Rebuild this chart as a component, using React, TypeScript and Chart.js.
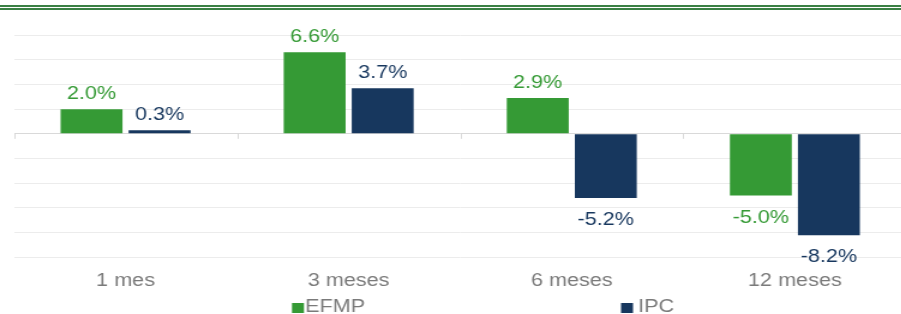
import React, { useEffect, useRef } from "react";
import { Chart, registerables } from "chart.js";

Chart.register(...registerables);

const categories = ["1 mes", "3 meses", "6 meses", "12 meses"];
const seriesNames = ["EFMP", "IPC"];
const efmpValues = [2.0, 6.6, 2.9, -5.0];
const ipcValues = [0.3, 3.7, -5.2, -8.2];
const yMin = -10;
const yMax = 8;
const yStep = 2;

const GREEN = "#359a35";
const NAVY = "#17375e";
const GRAY_TEXT = "#7a7a7a";
const FONT = "'Liberation Sans', Arial, sans-serif";
const SX = 1.2; // horizontal stretch of the original picture
const W = 757;
const H = 314;

const decorPlugin = {
  id: "decor",
  beforeDraw(chart: any) {
    const ctx = chart.ctx;
    ctx.save();
    ctx.fillStyle = "#3a8044";
    ctx.fillRect(0, 5, chart.width, 2);
    ctx.fillRect(0, 8, chart.width, 2);
    ctx.restore();
  },
  afterDraw(chart: any) {
    const ctx = chart.ctx;
    const x = chart.scales.x;
    const y = chart.scales.y;
    const zy = y.getPixelForValue(0);
    ctx.save();
    ctx.strokeStyle = "#d9d9d9";
    ctx.lineWidth = 1;
    const n = categories.length;
    const step = n > 1 ? x.getPixelForTick(1) - x.getPixelForTick(0) : x.width;
    for (let i = 0; i <= n; i++) {
      const px = Math.round(x.getPixelForTick(0) - step / 2 + i * step) + 0.5;
      ctx.beginPath();
      ctx.moveTo(px, zy);
      ctx.lineTo(px, zy + 5);
      ctx.stroke();
    }
    const colors = [GREEN, NAVY];
    const boxX = [243.3, 517.5];
    const textX = [254.2, 531.7];
    ctx.font = `18px ${FONT}`;
    ctx.textBaseline = "alphabetic";
    ctx.textAlign = "left";
    for (let i = 0; i < seriesNames.length; i++) {
      ctx.fillStyle = colors[i];
      ctx.fillRect(boxX[i], 303, 10, 10);
      ctx.fillStyle = GRAY_TEXT;
      ctx.fillText(seriesNames[i], textX[i], 312);
    }
    ctx.restore();
  },
  afterDatasetsDraw(chart: any) {
    const ctx = chart.ctx;
    ctx.save();
    ctx.font = `18px ${FONT}`;
    ctx.textAlign = "center";
    ctx.textBaseline = "alphabetic";
    chart.data.datasets.forEach((ds: any, di: number) => {
      const meta = chart.getDatasetMeta(di);
      meta.data.forEach((bar: any, i: number) => {
        const v = ds.data[i];
        const label = `${v.toFixed(1)}%`;
        ctx.fillStyle = ds.backgroundColor;
        if (v >= 0) {
          ctx.fillText(label, bar.x, bar.y - 10);
        } else {
          ctx.fillText(label, bar.x, bar.y + 27);
        }
      });
    });
    ctx.restore();
  },
};

export default function App() {
  const ref = useRef<HTMLCanvasElement | null>(null);
  useEffect(() => {
    document.body.style.margin = "0";
    document.body.style.overflow = "hidden";
    document.documentElement.style.overflow = "hidden";
    const canvas = ref.current!;
    const chart = new Chart(canvas, {
      type: "bar",
      data: {
        labels: categories,
        datasets: [
          { label: seriesNames[0], data: efmpValues, backgroundColor: GREEN, barPercentage: 0.91, categoryPercentage: 0.61 },
          { label: seriesNames[1], data: ipcValues, backgroundColor: NAVY, barPercentage: 0.91, categoryPercentage: 0.61 },
        ],
      },
      options: {
        responsive: false,
        animation: false,
        devicePixelRatio: 1,
        layout: { padding: { left: 14 / SX, right: 2 / SX, top: 35, bottom: 9 } },
        plugins: { legend: { display: false }, tooltip: { enabled: false }, title: { display: false } },
        scales: {
          x: {
            grid: { display: false, drawTicks: false },
            border: { display: false },
            ticks: { color: GRAY_TEXT, font: { family: FONT, size: 18 }, padding: 13, maxRotation: 0 },
          },
          y: {
            min: yMin,
            max: yMax,
            ticks: { display: false, stepSize: yStep },
            border: { display: false },
            grid: {
              drawTicks: false,
              color: (c: any) => (c.tick && c.tick.value === 0 ? "#d9d9d9" : "#ececec"),
              lineWidth: 1,
            },
          },
        },
      },
      plugins: [decorPlugin],
    });
    return () => chart.destroy();
  }, []);
  return (
    <div style={{ position: "fixed", left: 0, top: 0, width: 901, height: 314, overflow: "hidden", background: "#fff" }}>
      <canvas
        ref={ref}
        width={W}
        height={H}
        style={{ display: "block", width: W, height: H, transform: `scaleX(${SX})`, transformOrigin: "0 0" }}
      />
    </div>
  );
}
